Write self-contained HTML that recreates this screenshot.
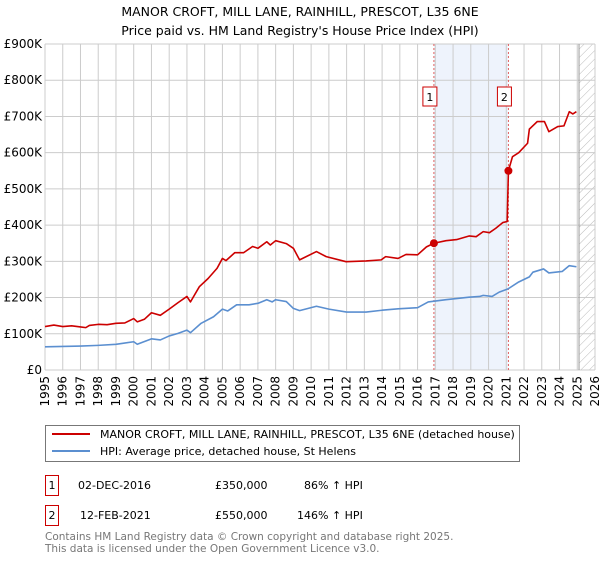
<!DOCTYPE html>
<html><head><meta charset="utf-8"><style>
body{margin:0;background:#fff;font-family:"Liberation Sans","DejaVu Sans",sans-serif;}
svg text{font-family:"DejaVu Sans","Liberation Sans",sans-serif;}
</style></head><body>
<svg width="600" height="560" xmlns="http://www.w3.org/2000/svg">
<defs><pattern id="hatch" width="6" height="6" patternUnits="userSpaceOnUse" patternTransform="rotate(45)"><line x1="0" y1="0" x2="0" y2="6" stroke="#bbb" stroke-width="1"/></pattern></defs>
<text x="300" y="16" text-anchor="middle" font-size="12.5" fill="#000">MANOR CROFT, MILL LANE, RAINHILL, PRESCOT, L35 6NE</text>
<text x="300" y="35" text-anchor="middle" font-size="12.5" fill="#000">Price paid vs. HM Land Registry's House Price Index (HPI)</text>
<g id="plot"></g>
<g>
<rect x="45.5" y="425.5" width="474" height="36" fill="#fff" stroke="#777"/>
<line x1="52" y1="434" x2="90" y2="434" stroke="#cc0000" stroke-width="2"/>
<text x="100" y="438" font-size="11">MANOR CROFT, MILL LANE, RAINHILL, PRESCOT, L35 6NE (detached house)</text>
<line x1="52" y1="451" x2="90" y2="451" stroke="#5b8fd0" stroke-width="2"/>
<text x="100" y="455" font-size="11">HPI: Average price, detached house, St Helens</text>
</g>
<g font-size="11">
<rect x="45.5" y="475.5" width="13" height="20" fill="#fff" stroke="#cc0000"/><text x="52" y="489" text-anchor="middle">1</text>
<text x="78" y="489">02-DEC-2016</text><text x="215" y="489">£350,000</text><text x="304" y="489">86% ↑ HPI</text>
<rect x="45.5" y="505.5" width="13" height="20" fill="#fff" stroke="#cc0000"/><text x="52" y="519" text-anchor="middle">2</text>
<text x="80" y="519">12-FEB-2021</text><text x="215" y="519">£550,000</text><text x="297" y="519">146% ↑ HPI</text>
</g>
<text x="45" y="540" font-size="10.5" fill="#777">Contains HM Land Registry data © Crown copyright and database right 2025.</text>
<text x="45" y="552" font-size="10.5" fill="#777">This data is licensed under the Open Government Licence v3.0.</text>
</svg>
<script>
const redYears=[1995,1995.5,1996,1996.5,1997,1997.3,1997.5,1998,1998.5,1999,1999.5,2000,2000.2,2000.6,2001,2001.5,2002,2002.5,2003,2003.2,2003.7,2004.2,2004.7,2005,2005.2,2005.7,2006.2,2006.7,2007,2007.5,2007.7,2008,2008.6,2009,2009.35,2010.3,2010.85,2011.97,2013.1,2013.95,2014.2,2014.9,2015.35,2016,2016.5,2016.92,2017.6,2018.2,2018.9,2019.3,2019.7,2020.05,2020.4,2020.8,2021.05,2021.12,2021.35,2021.7,2022.2,2022.3,2022.75,2023.15,2023.4,2023.9,2024.25,2024.55,2024.75,2024.95];
const redValues=[120,124,120,122,119,117,123,126,125,129,130,142,133,140,158,151,168,186,203,188,230,253,281,308,302,324,324,341,336,354,345,357,349,336,304,327,313,299,301,304,313,308,319,318,340,350,357,360,370,368,382,379,391,407,410,550,589,600,626,665,686,686,658,672,674,713,707,713];
const blueYears=[1995,1996,1997,1998,1999,2000,2000.2,2001,2001.5,2002,2002.5,2003,2003.2,2003.8,2004.5,2005,2005.3,2005.8,2006.5,2007,2007.5,2007.8,2008,2008.6,2009,2009.35,2010.3,2011,2012,2013.1,2014,2014.9,2016,2016.6,2017.6,2018.9,2019.5,2019.7,2020.2,2020.6,2021.1,2021.7,2022.3,2022.5,2023.1,2023.4,2024.15,2024.55,2024.95];
const blueValues=[64,65,66,68,71,78,71,86,83,94,101,110,103,129,147,168,163,180,180,184,194,188,194,189,170,164,176,168,160,160,165,169,172,188,194,201,203,206,203,215,224,243,257,270,279,268,272,288,285];
const saleYears=[2016.92,2021.12];
const saleValues=[350,550];
const saleLabels=["1","2"];
const yTicks=[0,100,200,300,400,500,600,700,800,900];
const yTickLabels=["£0","£100K","£200K","£300K","£400K","£500K","£600K","£700K","£800K","£900K"];
const xTicks=[1995,1996,1997,1998,1999,2000,2001,2002,2003,2004,2005,2006,2007,2008,2009,2010,2011,2012,2013,2014,2015,2016,2017,2018,2019,2020,2021,2022,2023,2024,2025,2026];
const X0=45,X1=595,Y0=370,Y1=44,xMin=1995,xMax=2026,yMax=900;
const sx=v=>X0+(v-xMin)/(xMax-xMin)*(X1-X0);
const sy=v=>Y0-v/yMax*(Y0-Y1);
const NS="http://www.w3.org/2000/svg";
const plot=document.getElementById('plot');
function mk(tag,attrs,parent){const e=document.createElementNS(NS,tag);for(const k in attrs)e.setAttribute(k,attrs[k]);(parent||plot).appendChild(e);return e;}
// shaded span
const sh=mk('rect',{x:sx(saleYears[0]),y:Y1,width:sx(saleYears[1])-sx(saleYears[0]),height:Y0-Y1,fill:'#eef3fc'});


// hatch future
const ht=mk('rect',{x:sx(2025.1),y:Y1,width:X1-sx(2025.1),height:Y0-Y1,fill:'url(#hatch)'});


// grid
xTicks.forEach(t=>{
 const l=mk('line',{x1:sx(t),x2:sx(t),y1:Y1,y2:Y0,stroke:'#ccc','stroke-width':1});
 
 
 const tx=mk('text',{x:0,y:0,'font-size':12,'text-anchor':'end',transform:`translate(${sx(t)+4},${Y0+6}) rotate(-90)`});
 tx.textContent=t;
 
 
});
yTicks.forEach((t,i)=>{
 const l=mk('line',{x1:X0,x2:X1,y1:sy(t),y2:sy(t),stroke:'#ccc','stroke-width':1});
 
 
 const tx=mk('text',{x:X0-3,y:sy(t)+4,'font-size':12,'text-anchor':'end'});
 tx.textContent=yTickLabels[i];
 
 
});
const vl=mk('line',{x1:sx(2025.1),x2:sx(2025.1),y1:Y1,y2:Y0,stroke:'#999','stroke-width':1});


saleYears.forEach((y,i)=>{
 const l=mk('line',{x1:sx(y),x2:sx(y),y1:Y1,y2:Y0,stroke:'#e06060','stroke-width':1,'stroke-dasharray':'2,2'});
 
 
 const r=mk('rect',{x:sx(y)-11,y:87,width:14,height:19,fill:'#fff',stroke:'#cc0000'});
 
 
 const t=mk('text',{x:sx(y)-4,y:101,'font-size':11,'text-anchor':'middle'});
 t.textContent=saleLabels[i];
 
 
});
function line(xs,vs,color,name){
 const p=mk('polyline',{points:xs.map((x,i)=>sx(x)+','+sy(vs[i])).join(' '),fill:'none',stroke:color,'stroke-width':1.6,'stroke-linejoin':'round'});
 
 
}
line(blueYears,blueValues,'#5b8fd0','hpi-line');
line(redYears,redValues,'#cc0000','price-line');
saleYears.forEach((y,i)=>{
 const c=mk('circle',{cx:sx(y),cy:sy(saleValues[i]),r:4,fill:'#cc0000'});
 
 
});
</script>
</body></html>
